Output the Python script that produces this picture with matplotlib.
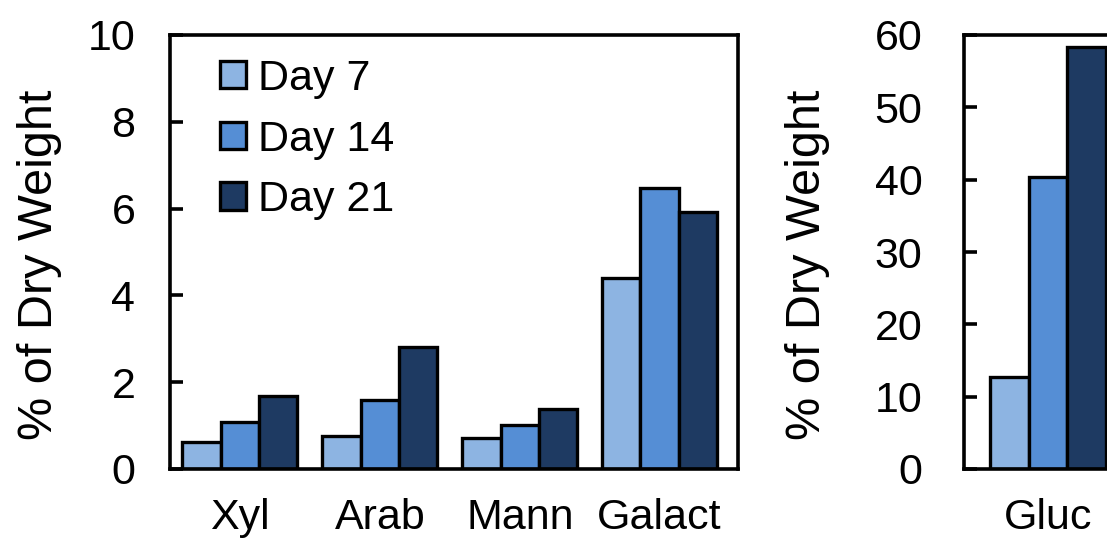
import numpy as np
import matplotlib
matplotlib.use("Agg")
import matplotlib.pyplot as plt

plt.rcParams['font.family'] = ['Liberation Sans', 'DejaVu Sans']

# minor sugars (left panel) and glucose (right panel), % of dry weight
sugars = ['Xyl', 'Arab', 'Mann', 'Galact']
day7 = [0.62, 0.76, 0.72, 4.39]
day14 = [1.09, 1.59, 1.02, 6.48]
day21 = [1.69, 2.80, 1.38, 5.93]

gluc_label = ['Gluc']
gluc7 = [12.7]
gluc14 = [40.3]
gluc21 = [58.3]

days = ['Day 7', 'Day 14', 'Day 21']
colors = ['#8DB4E2', '#558ED5', '#1E3A62']

fs = 31
lw = 2.6
bw = 0.274

fig = plt.figure(figsize=(11.07, 5.4), dpi=100)
ax1 = fig.add_axes([170/1107, 1-469/540, 568/1107, 434/540])
ax2 = fig.add_axes([964/1107, 1-469/540, 168/1107, 434/540])

def grouped(ax, cats, series):
    x = np.arange(len(cats))
    for i, (vals, c, lab) in enumerate(zip(series, colors, days)):
        ax.bar(x + (i-1)*bw, vals, bw, color=c, edgecolor='black',
               linewidth=2.4, label=lab, zorder=2)
    ax.set_xticks(x)
    ax.set_xticklabels(cats)

grouped(ax1, sugars, [day7, day14, day21])
grouped(ax2, gluc_label, [gluc7, gluc14, gluc21])

ax1.set_xlim(-0.5, 3.56)
ax1.set_ylim(0, 10)
ax1.set_yticks(np.arange(0, 11, 2))
ax2.set_xlim(-0.6, 0.6)
ax2.set_ylim(0, 60)
ax2.set_yticks(np.arange(0, 61, 10))

for ax, pad in ((ax1, 25), (ax2, 30)):
    for s in ax.spines.values():
        s.set_linewidth(lw)
    ax.tick_params(axis='y', direction='in', length=9, width=lw,
                   labelsize=fs, pad=pad)
    ax.tick_params(axis='x', length=0, labelsize=fs, pad=21)
    ax.set_ylabel('% of Dry Weight', fontsize=35)

ax1.yaxis.set_label_coords(-0.19, 0.47)
ax2.yaxis.set_label_coords(-0.80, 0.47)

ax1.legend(loc='upper left', bbox_to_anchor=(50/568, 1-24/434),
           frameon=False, fontsize=fs, borderpad=0, borderaxespad=0,
           handlelength=0.6, handleheight=0.6, handletextpad=0.28,
           labelspacing=0.48)

fig.savefig('out.png', dpi=100)
